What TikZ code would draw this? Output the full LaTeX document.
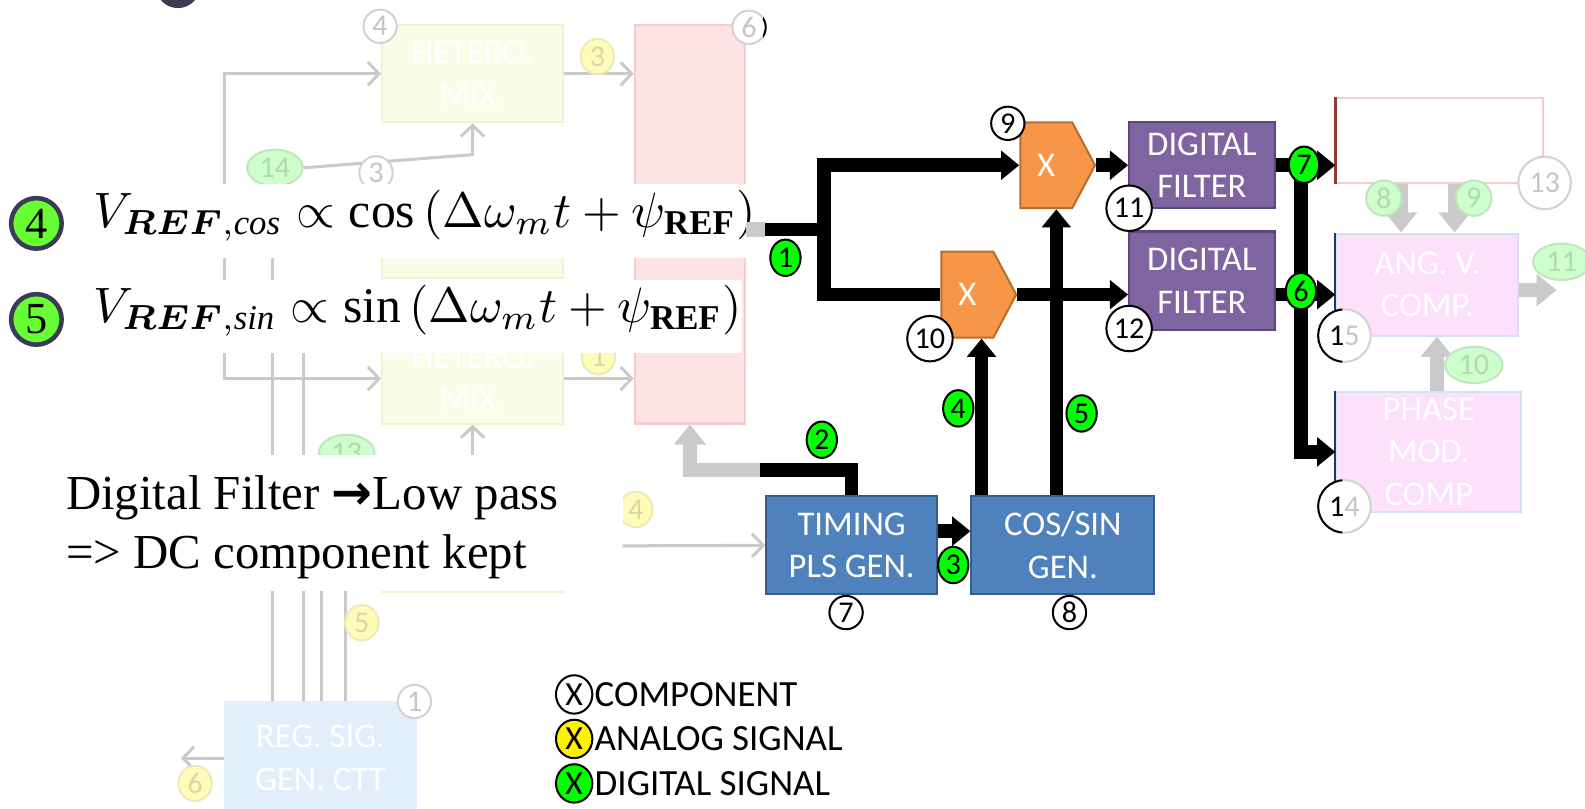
\documentclass[tikz,border=0pt]{standalone}
\usepackage{graphicx}
\usepackage{fontspec}
\usepackage{bm}
\setmainfont{Liberation Serif}
\setsansfont{Carlito}
\newfontfamily\arrowfont{DejaVu Sans}
\usetikzlibrary{arrows.meta,positioning,shapes.geometric,shapes.symbols}
\definecolor{mixorange}{HTML}{F79646}
\definecolor{mixborder}{HTML}{B66D31}
\definecolor{filtpurple}{HTML}{8064A2}
\definecolor{filtborder}{HTML}{5C4776}
\definecolor{genblue}{HTML}{4F81BD}
\definecolor{genborder}{HTML}{385D8A}
\definecolor{siggreen}{HTML}{00FF00}
\definecolor{eqgreen}{HTML}{66FF33}
\definecolor{eqnavy}{HTML}{3B3B58}
\definecolor{titlenavy}{HTML}{3B3B52}
\definecolor{fadegray}{HTML}{CACACA}
\definecolor{fadering}{HTML}{D2D2D2}
\definecolor{fadetext}{HTML}{C6C6C6}
\definecolor{fadeyellow}{HTML}{FFFBB8}
\definecolor{fadeyelline}{HTML}{EEEAB8}
\definecolor{fadeyeltext}{HTML}{DCD7A0}
\definecolor{fadegreen}{HTML}{CCFFCC}
\definecolor{fadegrline}{HTML}{C2E4C2}
\definecolor{fadegrtext}{HTML}{B4D8B4}
\definecolor{hetfill}{HTML}{FAFDE8}
\definecolor{hetline}{HTML}{EDF3D6}
\definecolor{pinkfill}{HTML}{FDE3E3}
\definecolor{pinkline}{HTML}{F6CDCD}
\definecolor{angfill}{HTML}{FDE0FC}
\definecolor{angline}{HTML}{D2E2F4}
\definecolor{angnavy}{HTML}{1F3864}
\definecolor{regfill}{HTML}{E2EEFB}
\definecolor{redline}{HTML}{953735}
\newcommand{\blockfont}{\sffamily\fontsize{19.5}{24}\selectfont}
\newcommand{\tagfont}{\sffamily\fontsize{17}{17}\selectfont}

\begin{document}
\begin{tikzpicture}[x=0.02cm, y=-0.02cm,
  hetbox/.style={fill=hetfill, draw=hetline, line width=0.04cm, minimum width=3.58cm,
                 text=white, align=center, font=\blockfont},
  angbox/.style={fill=angfill, draw=angline, line width=0.04cm,
                 text=white, align=center, font=\blockfont},
  filt/.style={fill=filtpurple, draw=filtborder, line width=0.04cm, minimum width=2.88cm,
               text=white, align=center, font=\blockfont},
  gen/.style={fill=genblue, draw=genborder, line width=0.04cm, minimum height=1.94cm,
              text=white, align=center, font=\blockfont},
  mixer/.style={signal, signal to=east, signal pointer angle=124, fill=mixorange,
                draw=mixborder, line width=0.04cm, minimum width=1.48cm, minimum height=1.7cm,
                inner sep=0pt, text=white, font=\blockfont},
  comp/.style={circle, draw=black, fill=white, line width=0.04cm, minimum size=0.66cm,
               inner sep=0pt, font=\tagfont},
  compw/.style={comp, minimum size=0.9cm},
  dsig/.style={ellipse, draw=black, fill=siggreen, line width=0.04cm, minimum width=0.6cm,
               minimum height=0.72cm, inner sep=0pt, font=\tagfont},
  fcomp/.style={comp, draw=fadering, text=fadetext},
  fana/.style={ellipse, fill=fadeyellow, draw=fadeyelline, text=fadeyeltext, line width=0.04cm,
               minimum width=0.66cm, minimum height=0.7cm, inner sep=0pt, font=\tagfont},
  fdig/.style={ellipse, fill=fadegreen, draw=fadegrline, text=fadegrtext, line width=0.04cm,
               minimum width=1.1cm, minimum height=0.72cm, inner sep=0pt, font=\tagfont},
  eqnum/.style={circle, fill=eqgreen, draw=eqnavy, line width=0.09cm, minimum size=1.0cm,
                inner sep=0pt, font=\fontsize{25}{25}\selectfont},
  legend/.style={ellipse, draw=black, line width=0.04cm, minimum width=0.72cm,
                 minimum height=0.76cm, inner sep=0pt, font=\sffamily\fontsize{19}{19}\selectfont},
  legtxt/.style={font=\sffamily\fontsize{20.8}{21}\selectfont, inner sep=0pt},
  note/.style={anchor=base west, inner sep=0pt, font=\fontsize{27.5}{33}\selectfont},
  sig/.style={line width=0.27cm, black},
  sigarr/.style={sig, -{Triangle[length=0.36cm,width=0.56cm]}},
  fadeln/.style={fadegray, line width=0.06cm},
  fadearr/.style={fadeln, -{Straight Barb[length=0.22cm,width=0.46cm]}},
  fadethk/.style={fadegray, line width=0.28cm},
  fadethkarr/.style={fadethk, -{Triangle[length=0.4cm,width=0.62cm]}},
  band/.style={fill=white, draw=none}
]
  \useasboundingbox (0,0) rectangle (1568,800);

  % ── Top: rest of the slide title ──
  \fill[titlenavy] (176,-14) circle [radius=0.44cm];

  % ── Left (faded): hetero mixers and pink block ──
  \node[hetbox, minimum height=1.92cm] (het1) at (467.5, 73) {HETERO.\\MIX.};
  \node[hetbox, minimum height=1.84cm] (het2) at (467.5, 229) {};
  \node[hetbox, minimum height=1.78cm] (het3) at (467.5, 374.5) {HETERO.\\MIX.};
  \node[hetbox, minimum height=2.12cm] (het4) at (467.5, 533) {};
  \node[fill=pinkfill, draw=pinkline, line width=0.04cm,
        minimum width=2.18cm, minimum height=7.88cm] (pink) at (682.5, 222) {};
  \node[fill=regfill, draw=regfill, minimum width=3.8cm, minimum height=2.24cm,
        text=white, align=center, font=\blockfont] (reg) at (317, 750) {REG. SIG.\\GEN. CTT};

  \coordinate (v1) at (222, 220);
  \draw[fadearr] (v1) |- (het1.west);
  \draw[fadearr] (v1) |- (het3.west);
  \foreach \xx/\yy [count=\i] in {270/200, 300/300, 318/520, 342/520} {
    \coordinate (bus\i) at (\xx, \yy);
    \draw[fadeln] (bus\i) -- (bus\i |- reg.north);
  }
  \draw[fadearr] (het1.east) -- (het1.east -| pink.west);
  \draw[fadearr] (het3.east) -- (het3.east -| pink.west);
  \coordinate (regout) at (179, 750);
  \draw[fadearr] (reg.west) -- (regout);
  \coordinate (up3) at (467.5, 470);
  \draw[fadearr] (up3) -- (het3.south);
  \coordinate (tmin) at (616, 540);

  \node[fdig] (g14) at (272, 166) {14};
  \node[fdig] (g13) at (343, 448) {13};
  \draw[fadearr] (g14.east) -- (het1.south |- 0,153) -- (het1.south);
  \node[fcomp] (f4) at (376, 26) {4};
  \node[fcomp] (f6) at (741, 27) {6};
  \node[fcomp] (f3) at (372, 171) {3};
  \node[fcomp] (f1) at (410, 694) {1};
  \node[fana] (y3) at (591, 56) {3};
  \node[fana] (y1) at (592, 353) {1};
  \node[fana] (y4) at (629, 504) {4};
  \node[fana] (y5) at (358, 616) {5};
  \node[fana] (y6) at (193, 775) {6};
  \begin{scope}
    \clip (755,0) rectangle (800,60);
    \node[comp] (f6k) at (741, 27) {};
  \end{scope}

  % ── White bands over the faded part ──
  \fill[band] (0,182) rectangle (744,255);
  \fill[band] (0,277) rectangle (734,349);
  \fill[band] (0,450) rectangle (616,585);

  % ── Formulas ──
  \node[eqnum] (eq4) at (36, 221) {4};
  \node[eqnum] (eq5) at (36, 316) {5};
  \node[anchor=base west, inner sep=0pt] (eqcos) at (92, 225)
    {\scalebox{2.8}{$V_{\bm{REF},\mathit{cos}} \propto \cos\,(\Delta\omega_m t + \psi_{\mathbf{REF}})$}};
  \node[anchor=base west, inner sep=0pt] (eqsin) at (92, 319)
    {\scalebox{2.8}{$V_{\bm{REF},\mathit{sin}} \propto \sin\,(\Delta\omega_m t + \psi_{\mathbf{REF}})$}};

  % ── Note ──
  \node[note] (noteA) at (65, 504) {Digital Filter {\arrowfont\bfseries →}Low pass};
  \node[note] (noteB) at (65, 562) {=> DC component kept};

  % ── Right (faded): computation blocks ──
  \node[fill=white, draw=pinkline, line width=0.04cm,
        minimum width=4.08cm, minimum height=1.68cm] (redbox) at (1424, 139) {};
  \draw[redline, line width=0.06cm] (redbox.north west) -- (redbox.south west);
  \node[angbox, minimum width=3.6cm, minimum height=2.02cm] (ang) at (1412, 281.5) {ANG. V.\\COMP.};
  \node[angbox, minimum width=3.66cm, minimum height=2.24cm] (phase) at (1413.5, 447) {PHASE\\MOD.\\COMP};
  \draw[angnavy, line width=0.04cm] (ang.north west) -- (ang.south west);
  \draw[angnavy, line width=0.04cm] (phase.north west) -- (phase.south west);
  \draw[fadethkarr] ([xshift=-0.52cm]ang.north |- redbox.south) -- ([xshift=-0.52cm]ang.north);
  \draw[fadethkarr] ([xshift=0.54cm]ang.north |- redbox.south) -- ([xshift=0.54cm]ang.north);
  \draw[fadethkarr] ([xshift=0.16cm]phase.north) -- ([xshift=0.16cm]phase.north |- ang.south);
  \coordinate (angout) at (1540, 287);
  \draw[fadethkarr] (ang.east |- angout) -- (angout);
  \node[fdig, minimum width=0.7cm, minimum height=0.7cm] (g8) at (1369, 196) {8};
  \node[fdig, minimum width=0.7cm, minimum height=0.7cm] (g9) at (1458, 196) {9};
  \node[fdig, minimum width=1.14cm] (g10) at (1458, 361) {10};
  \node[fdig, minimum width=1.14cm] (g11) at (1545, 259) {11};
  \node[fcomp, minimum size=1.04cm] (f13) at (1528, 181) {13};
  \node[fcomp, minimum size=1.04cm] (f15) at (1330, 332) {15};
  \node[fcomp, minimum size=1.04cm] (f14) at (1330, 501) {14};
  \begin{scope}
    \clip (1290,300) rectangle (1328,540);
    \node[comp, minimum size=1.04cm] (k15) at (1330, 332) {15};
    \node[comp, minimum size=1.04cm] (k14) at (1330, 501) {14};
  \end{scope}

  % ── Middle: mixers, filters, generators ──
  \node[mixer] (mixA) at (1035, 163.5) {X};
  \node[mixer] (mixB) at (957, 291.5) {X};
  \node[filt, minimum height=1.7cm] (filtA) at (1189, 163.5) {DIGITAL\\FILTER};
  \node[filt, minimum height=1.94cm] (filtB) at (1189, 277.5) {DIGITAL\\FILTER};
  \node[gen, minimum width=3.38cm] (timing) at (842.5, 539.5) {TIMING\\PLS GEN.};
  \node[gen, minimum width=3.62cm] (cossin) at (1051.5, 539.5) {COS/SIN\\GEN.};

  % Faded stubs of the black signals
  \coordinate (j1) at (757, 227);
  \coordinate (j2) at (752, 465);
  \coordinate (br) at (815, 227);
  \draw[fadethk] (pink.east |- j1) -- (j1);
  \draw[fadethkarr] (j2) -| (pink.south);
  \draw[fadearr] (tmin) -- (timing.west);

  % Signals
  \draw[sig] (j1) -- (br);
  \draw[sigarr] (br) |- (mixA.west);
  \draw[sig] (br) |- (mixB.west);
  \draw[sig] (j2) -| (timing.north);
  \draw[sigarr] ([yshift=0.28cm]timing.east) -- ([yshift=0.28cm]timing.east -| cossin.west);
  \draw[sigarr] ([xshift=0.28cm]mixB.south |- cossin.north) -- ([xshift=0.28cm]mixB.south);
  \draw[sigarr] ([xshift=0.2cm]mixA.south |- cossin.north) -- ([xshift=0.2cm]mixA.south);
  \draw[sigarr] (mixA.east) -- (mixA.east -| filtA.west);
  \draw[sigarr] (mixB.east) -- (mixB.east -| filtB.west);
  \coordinate (rv) at (1287, 163.5);
  \draw[sigarr] (filtA.east) -- (filtA.east -| redbox.west);
  \draw[sigarr] (filtB.east |- mixB.east) -- (mixB.east -| ang.west);
  \draw[sigarr] (rv) |- (phase.west);

  % Labels
  \node[comp] (c9) at (997, 122) {9};
  \node[compw] (c10) at (920, 335) {10};
  \node[compw] (c11) at (1117, 206) {11};
  \node[compw] (c12) at (1117, 325) {12};
  \node[comp] (c7) at (837, 606) {7};
  \node[comp] (c8) at (1058, 606) {8};
  \node[dsig] (d1) at (777, 255) {1};
  \node[dsig] (d2) at (813, 435) {2};
  \node[dsig] (d3) at (943, 559) {3};
  \node[dsig] (d4) at (948, 404) {4};
  \node[dsig] (d5) at (1070, 409) {5};
  \node[dsig] (d7) at (1290, 163) {7};
  \node[dsig] (d6) at (1287, 288) {6};

  % ── Legend ──
  \node[legend, fill=white] (lgcomp) at (568, 687) {X};
  \node[legend, fill=yellow] (lgana) at (568, 731) {X};
  \node[legend, fill=siggreen] (lgdig) at (568, 775) {X};
  \node[legtxt, right=0.02cm of lgcomp] (lgcompt) {COMPONENT};
  \node[legtxt, right=0.02cm of lgana] (lganat) {ANALOG SIGNAL};
  \node[legtxt, right=0.02cm of lgdig] (lgdigt) {DIGITAL SIGNAL};
\end{tikzpicture}
\end{document}
